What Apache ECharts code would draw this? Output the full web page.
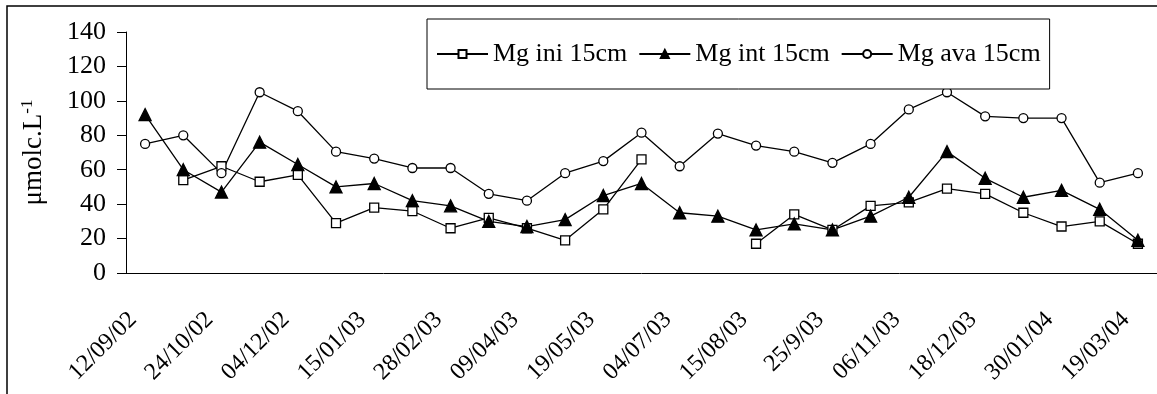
<!DOCTYPE html>
<html>
<head>
<meta charset="utf-8">
<script src="https://cdn.jsdelivr.net/npm/echarts@6/dist/echarts.min.js"></script>
<style>
  html, body { margin: 0; padding: 0; background: #fff; }
  #content { width: 1157px; height: 394px; }
</style>
</head>
<body>
<div id="content"></div>
<script>
// tick labels, one on every second sampling date
var dateLabels = ['12/09/02', '24/10/02', '04/12/02', '15/01/03', '28/02/03', '09/04/03', '19/05/03',
    '04/07/03', '15/08/03', '25/9/03', '06/11/03', '18/12/03', '30/01/04', '19/03/04'];

// values (umolc/L), null = no sample
var mgIni = [null, 54, 62, 53, 57, 29, 38, 36, 26, 32, 26, 19, 37, 66, null, null, 17, 34, 25, 39, 41, 49, 46, 35, 27, 30, 17];
var mgInt = [92, 60, 47, 76, 63, 50, 52, 42, 39, 30, 27, 31, 45, 52, 35, 33, 25, 28.5, 25, 33, 44, 70.5, 55, 44, 48, 37, 19];
var mgAva = [75, 80, 58, 105, 94, 70.5, 66.5, 61, 61, 46, 42, 58, 65, 81.5, 62, 81, 74, 70.5, 64, 75, 95, 105, 91, 90, 90, 52.5, 58];

// 27 categories, label only on even ones
var categories = [];
for (var i = 0; i < mgAva.length; i++) {
    categories.push(i % 2 === 0 ? dateLabels[i / 2] : '');
}

var font = '"Liberation Serif", "Times New Roman", serif';
var chart = echarts.init(document.getElementById('content'));

function lineSeries(name, data, symbol, size, fill) {
    return {
        name: name,
        type: 'line',
        data: data,
        connectNulls: false,
        symbol: symbol,
        symbolSize: size,
        showAllSymbol: true,
        lineStyle: { color: '#000', width: 1.3 },
        itemStyle: { color: fill, borderColor: '#000', borderWidth: 1.3 },
        emphasis: { disabled: true },
        z: 3
    };
}

var option = {
    backgroundColor: '#fff',
    animation: false,
    textStyle: { fontFamily: font, color: '#000' },
    graphic: [{
        type: 'rect',
        shape: { x: 7, y: 6, width: 1300, height: 500 },
        style: { fill: 'none', stroke: '#000', lineWidth: 1.5 },
        silent: true
    }],
    grid: { left: 126, top: 32, width: 1032, height: 241 },
    legend: {
        left: 427,
        top: 19,
        padding: [22, 9, 22, 9],
        itemGap: 11,
        itemWidth: 51,
        itemHeight: 10,
        borderColor: '#000',
        borderWidth: 1,
        backgroundColor: '#fff',
        textStyle: { fontFamily: font, fontSize: 26, color: '#000' },
        data: ['Mg ini 15cm', 'Mg int 15cm', 'Mg ava 15cm']
    },
    xAxis: {
        type: 'category',
        data: categories,
        boundaryGap: true,
        axisLine: { lineStyle: { color: '#000', width: 1 } },
        axisTick: { interval: 0, length: 9, lineStyle: { color: '#000' } },
        axisLabel: {
            interval: 0,
            rotate: 45,
            margin: 31,
            padding: [0, 17, 0, 0],
            fontFamily: font,
            fontSize: 24,
            color: '#000'
        },
        splitLine: { show: false }
    },
    yAxis: {
        type: 'value',
        min: 0,
        max: 140,
        interval: 20,
        name: '{a|μmolc.L}{s|-1}',
        nameLocation: 'middle',
        nameGap: 78,
        nameRotate: 90,
        nameTextStyle: {
            rich: {
                a: { fontFamily: font, fontSize: 27, color: '#000' },
                s: { fontFamily: font, fontSize: 17, color: '#000', verticalAlign: 'top', padding: [0, 0, 12, 0] }
            }
        },
        axisLine: { show: true, lineStyle: { color: '#000', width: 1 } },
        axisTick: { show: true, length: 9, lineStyle: { color: '#000' } },
        axisLabel: { margin: 20, fontFamily: font, fontSize: 26, color: '#000' },
        splitLine: { show: false }
    },
    series: [
        lineSeries('Mg ini 15cm', mgIni, 'rect', 9, '#fff'),
        lineSeries('Mg int 15cm', mgInt, 'triangle', 12, '#000'),
        lineSeries('Mg ava 15cm', mgAva, 'circle', 9, '#fff')
    ]
};

chart.setOption(option);
</script>
</body>
</html>
